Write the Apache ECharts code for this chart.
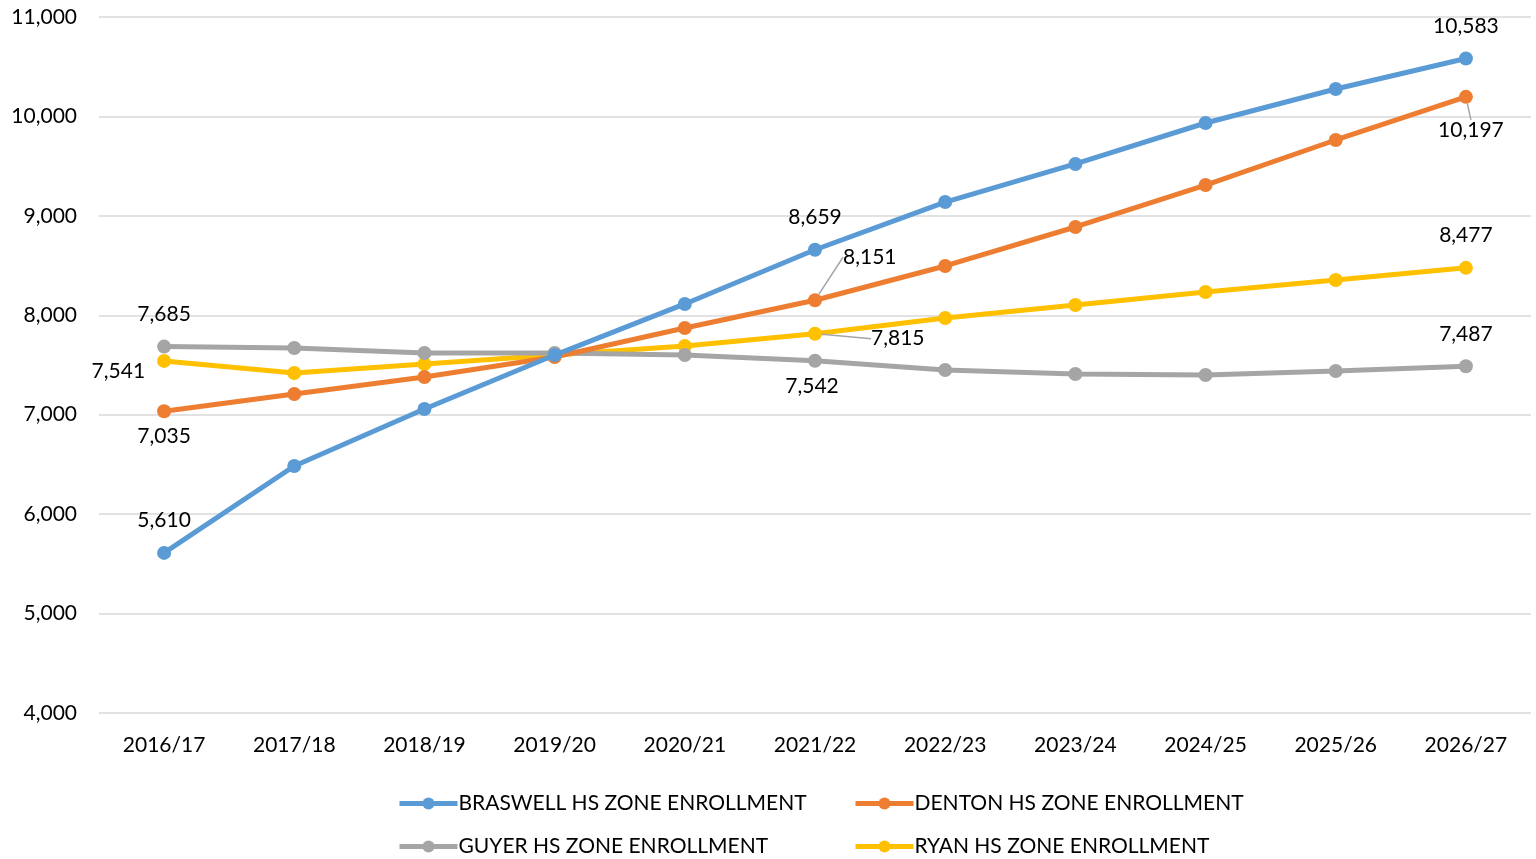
<!DOCTYPE html>
<html>
<head>
<meta charset="utf-8">
<script src="https://cdn.jsdelivr.net/npm/echarts@6/dist/echarts.min.js"></script>
<style>html,body{margin:0;padding:0;background:#fff;}#c{width:1536px;height:859px;}</style>
</head>
<body>
<div id="c"></div>
<script>
const categories = ['2016/17','2017/18','2018/19','2019/20','2020/21','2021/22','2022/23','2023/24','2024/25','2025/26','2026/27'];
const braswell = [5610, 6484, 7058, 7600, 8114, 8659, 9139, 9522, 9934, 10276, 10583];
const denton   = [7035, 7208, 7379, 7580, 7872, 8151, 8496, 8888, 9310, 9763, 10197];
const guyer    = [7685, 7671, 7621, 7621, 7601, 7542, 7450, 7410, 7400, 7440, 7487];
const ryan     = [7541, 7420, 7510, 7600, 7691, 7815, 7973, 8104, 8234, 8355, 8477];
const seriesNames = ['BRASWELL HS ZONE ENROLLMENT','DENTON HS ZONE ENROLLMENT','GUYER HS ZONE ENROLLMENT','RYAN HS ZONE ENROLLMENT'];
const yTicks = {min: 4000, max: 11000, interval: 1000};

const colors = ['#5B9BD5','#ED7D31','#A5A5A5','#FFC000'];
const FONT = 'Lato, "Liberation Sans", sans-serif';
const FS = 21;
const fmt = v => Number(v).toLocaleString('en-US');

const labelSpecs = [
  {0:{position:'top',distance:15}, 5:{position:'top',distance:15}, 10:{position:'top',distance:15}},
  {0:{position:'bottom',distance:8}, 5:{position:'right',line:true}, 10:{position:'bottom',distance:8, line:true}},
  {0:{position:'top',distance:15}, 5:{position:'bottom',distance:8}, 10:{position:'top',distance:15}},
  {0:{position:'left',distance:12}, 5:{position:'right',line:true}, 10:{position:'top',distance:15}}
];
const layoutShift = {
  '1_5': {dx: 16, dy: -43},
  '1_10': {dx: 5, dy: 8},
  '2_5': {dx: -3, dy: 0},
  '3_0': {dx: 0, dy: 10},
  '3_5': {dx: 44, dy: 5}
};

function build(values, si) {
  return values.map((v, i) => {
    const spec = labelSpecs[si][i];
    if (!spec) return v;
    const item = {
      value: v,
      label: {show: true, position: spec.position, distance: spec.distance || 5}
    };
    if (spec.line) item.labelLine = {show: true, lineStyle: {color: '#A5A5A5', width: 1.5}};
    return item;
  });
}

const allData = [braswell, denton, guyer, ryan];
const series = allData.map((vals, si) => ({
  name: seriesNames[si],
  type: 'line',
  data: build(vals, si),
  symbol: 'circle',
  symbolSize: 14,
  lineStyle: {width: 5, color: colors[si]},
  itemStyle: {color: colors[si]},
  z: 10 - si,
  label: {
    show: false,
    color: '#000',
    fontFamily: FONT,
    fontSize: FS,
    formatter: p => fmt(p.value)
  },
  labelLine: {show: false},
  labelLayout: function (p) {
    const s = layoutShift[si + '_' + p.dataIndex];
    return s ? {dx: s.dx, dy: s.dy} : {};
  },
  emphasis: {disabled: true},
  animation: false
}));

const legendPos = [[397, 793], [853, 793], [397, 836], [853, 836]];
const legends = seriesNames.map((n, i) => ({
  data: [n],
  left: legendPos[i][0],
  top: legendPos[i][1],
  padding: 0,
  itemWidth: 58,
  itemHeight: 15,
  itemGap: 0,
  lineStyle: {width: 5},
  textStyle: {fontFamily: FONT, fontSize: FS, color: '#000', padding: [0,0,0,-4]},
  selectedMode: false
}));

const chart = echarts.init(document.getElementById('c'));
chart.setOption({
  animation: false,
  color: colors,
  grid: {left: 99, right: 5, top: 17, bottom: 146, containLabel: false},
  legend: legends,
  xAxis: {
    type: 'category',
    data: categories,
    boundaryGap: true,
    axisLine: {show: false},
    axisTick: {show: false},
    axisLabel: {color: '#000', fontFamily: FONT, fontSize: FS, margin: 22}
  },
  yAxis: {
    type: 'value',
    min: yTicks.min,
    max: yTicks.max,
    interval: yTicks.interval,
    axisLine: {show: false},
    axisTick: {show: false},
    splitLine: {lineStyle: {color: '#D9D9D9', width: 1.5}},
    axisLabel: {color: '#000', fontFamily: FONT, fontSize: FS, margin: 22, formatter: v => fmt(v)}
  },
  series: series
});
</script>
</body>
</html>
